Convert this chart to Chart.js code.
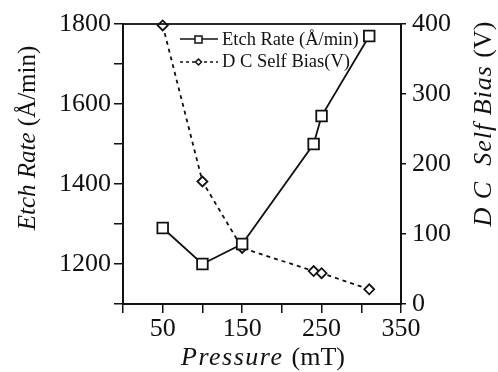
<!DOCTYPE html>
<html>
<head>
<meta charset="utf-8">
<script src="https://cdn.jsdelivr.net/npm/chart.js@4.4.1/dist/chart.umd.min.js"></script>
<style>
  html, body { margin: 0; padding: 0; background: #fff; }
  #wrap { width: 498px; height: 372px; position: relative; }
</style>
</head>
<body>
<div id="wrap"><canvas id="chart"></canvas></div>
<script>
// data
const pressureEtch = [50, 100, 150, 240, 250, 310];
const etchRate = [1290, 1200, 1250, 1500, 1570, 1770];
const pressureBias = [50, 100, 150, 240, 250, 310];
const selfBias = [398, 175, 80, 47, 44, 21];

const xLabels = [50, 150, 250, 350];
const leftLabels = [1200, 1400, 1600, 1800];

const SERIF = '"Liberation Serif", "DejaVu Serif", serif';

// draw a string made of several runs (italic / normal), centred on 0
function drawRuns(ctx, runs, size) {
    let total = 0;
    runs.forEach(r => {
        ctx.font = (r.italic ? 'italic ' : '') + size + 'px ' + SERIF;
        ctx.letterSpacing = r.spacing || '0px';
        r.w = ctx.measureText(r.text).width;
        total += r.w;
    });
    let x = -total / 2;
    runs.forEach(r => {
        ctx.font = (r.italic ? 'italic ' : '') + size + 'px ' + SERIF;
        ctx.letterSpacing = r.spacing || '0px';
        ctx.fillText(r.text, x, 0);
        x += r.w;
    });
    ctx.letterSpacing = '0px';
}

const extras = {
    id: 'extras',
    afterDraw(chart) {
        const ctx = chart.ctx;
        const a = chart.chartArea;
        ctx.save();
        ctx.strokeStyle = '#111';
        ctx.lineWidth = 1.8;
        ctx.strokeRect(a.left, a.top, a.right - a.left, a.bottom - a.top);

        ctx.fillStyle = '#111';
        ctx.textBaseline = 'middle';
        ctx.textAlign = 'left';

        // left title
        ctx.save();
        ctx.translate(28, 138);
        ctx.rotate(-Math.PI / 2);
        drawRuns(ctx, [{ text: 'Etch Rate ', italic: true }, { text: '(Å/min)' }], 25);
        ctx.restore();

        // right title
        ctx.save();
        ctx.translate(484, 124);
        ctx.rotate(-Math.PI / 2);
        drawRuns(ctx, [{ text: 'D C  Self Bias ', italic: true, spacing: '1px' }, { text: '(V)' }], 26);
        ctx.restore();

        // bottom title
        ctx.save();
        ctx.translate(263, 358);
        drawRuns(ctx, [{ text: 'Pressure ', italic: true, spacing: '1.5px' }, { text: '(mT)' }], 26);
        ctx.restore();

        // legend
        ctx.font = '18.5px ' + SERIF;
        ctx.lineWidth = 1.5;
        ctx.strokeStyle = '#111';
        ctx.beginPath();
        ctx.moveTo(180, 39); ctx.lineTo(218, 39);
        ctx.stroke();
        ctx.fillStyle = '#fff';
        ctx.fillRect(195, 36, 7, 7);
        ctx.strokeRect(195, 36, 7, 7);
        ctx.fillStyle = '#111';
        ctx.fillText('Etch Rate (Å/min)', 222, 40);

        ctx.setLineDash([3, 3]);
        ctx.beginPath();
        ctx.moveTo(180, 62); ctx.lineTo(218, 62);
        ctx.stroke();
        ctx.setLineDash([]);
        ctx.beginPath();
        ctx.moveTo(198.5, 59); ctx.lineTo(201.5, 62); ctx.lineTo(198.5, 65); ctx.lineTo(195.5, 62);
        ctx.closePath();
        ctx.fillStyle = '#fff';
        ctx.fill();
        ctx.stroke();
        ctx.fillStyle = '#111';
        ctx.fillText('D C Self Bias(V)', 222, 62);
        ctx.restore();
    }
};

const ctx = document.getElementById('chart').getContext('2d');
new Chart(ctx, {
    type: 'line',
    data: {
        datasets: [
            {
                label: 'Etch Rate (Å/min)',
                data: pressureEtch.map((p, i) => ({ x: p, y: etchRate[i] })),
                yAxisID: 'y',
                borderColor: '#111',
                borderWidth: 1.8,
                pointStyle: 'rect',
                pointRadius: 7.5,
                pointBorderWidth: 1.8,
                pointBackgroundColor: '#fff',
                pointBorderColor: '#111',
                clip: false
            },
            {
                label: 'D C Self Bias(V)',
                data: pressureBias.map((p, i) => ({ x: p, y: selfBias[i] })),
                yAxisID: 'y2',
                borderColor: '#111',
                borderWidth: 1.8,
                borderDash: [4, 4],
                pointStyle: 'rectRot',
                pointRadius: 5,
                pointBorderWidth: 1.8,
                pointBackgroundColor: '#fff',
                pointBorderColor: '#111',
                clip: false
            }
        ]
    },
    options: {
        responsive: true,
        maintainAspectRatio: false,
        animation: false,
        layout: { padding: { top: 24, left: 0, right: 0, bottom: 0 } },
        plugins: { legend: { display: false }, tooltip: { enabled: false } },
        scales: {
            x: {
                type: 'linear',
                min: 0, max: 350,
                ticks: {
                    stepSize: 50,
                    color: '#111',
                    font: { family: SERIF, size: 26 },
                    padding: 1,
                    maxRotation: 0,
                    autoSkip: false,
                    callback: v => xLabels.includes(v) ? String(v) : ''
                },
                grid: { drawOnChartArea: false, tickLength: 9, color: '#111', lineWidth: 1.5 },
                border: { color: '#111', width: 1.8 },
                afterFit: s => { s.height = 68; }
            },
            y: {
                type: 'linear',
                position: 'left',
                min: 1100, max: 1800,
                ticks: {
                    stepSize: 100,
                    color: '#111',
                    font: { family: SERIF, size: 26 },
                    padding: 3,
                    autoSkip: false,
                    callback: v => leftLabels.includes(v) ? String(v) : ''
                },
                grid: { drawOnChartArea: false, tickLength: 9, color: '#111', lineWidth: 1.5 },
                border: { color: '#111', width: 1.8 },
                afterFit: s => { s.width = 123; }
            },
            y2: {
                type: 'linear',
                position: 'right',
                min: 0, max: 400,
                ticks: {
                    stepSize: 100,
                    color: '#111',
                    font: { family: SERIF, size: 26 },
                    padding: 6,
                    autoSkip: false
                },
                grid: { drawOnChartArea: false, tickLength: 5, color: '#111', lineWidth: 1.5 },
                border: { color: '#111', width: 1.8 },
                afterFit: s => { s.width = 97; }
            }
        }
    },
    plugins: [extras]
});
</script>
</body>
</html>
